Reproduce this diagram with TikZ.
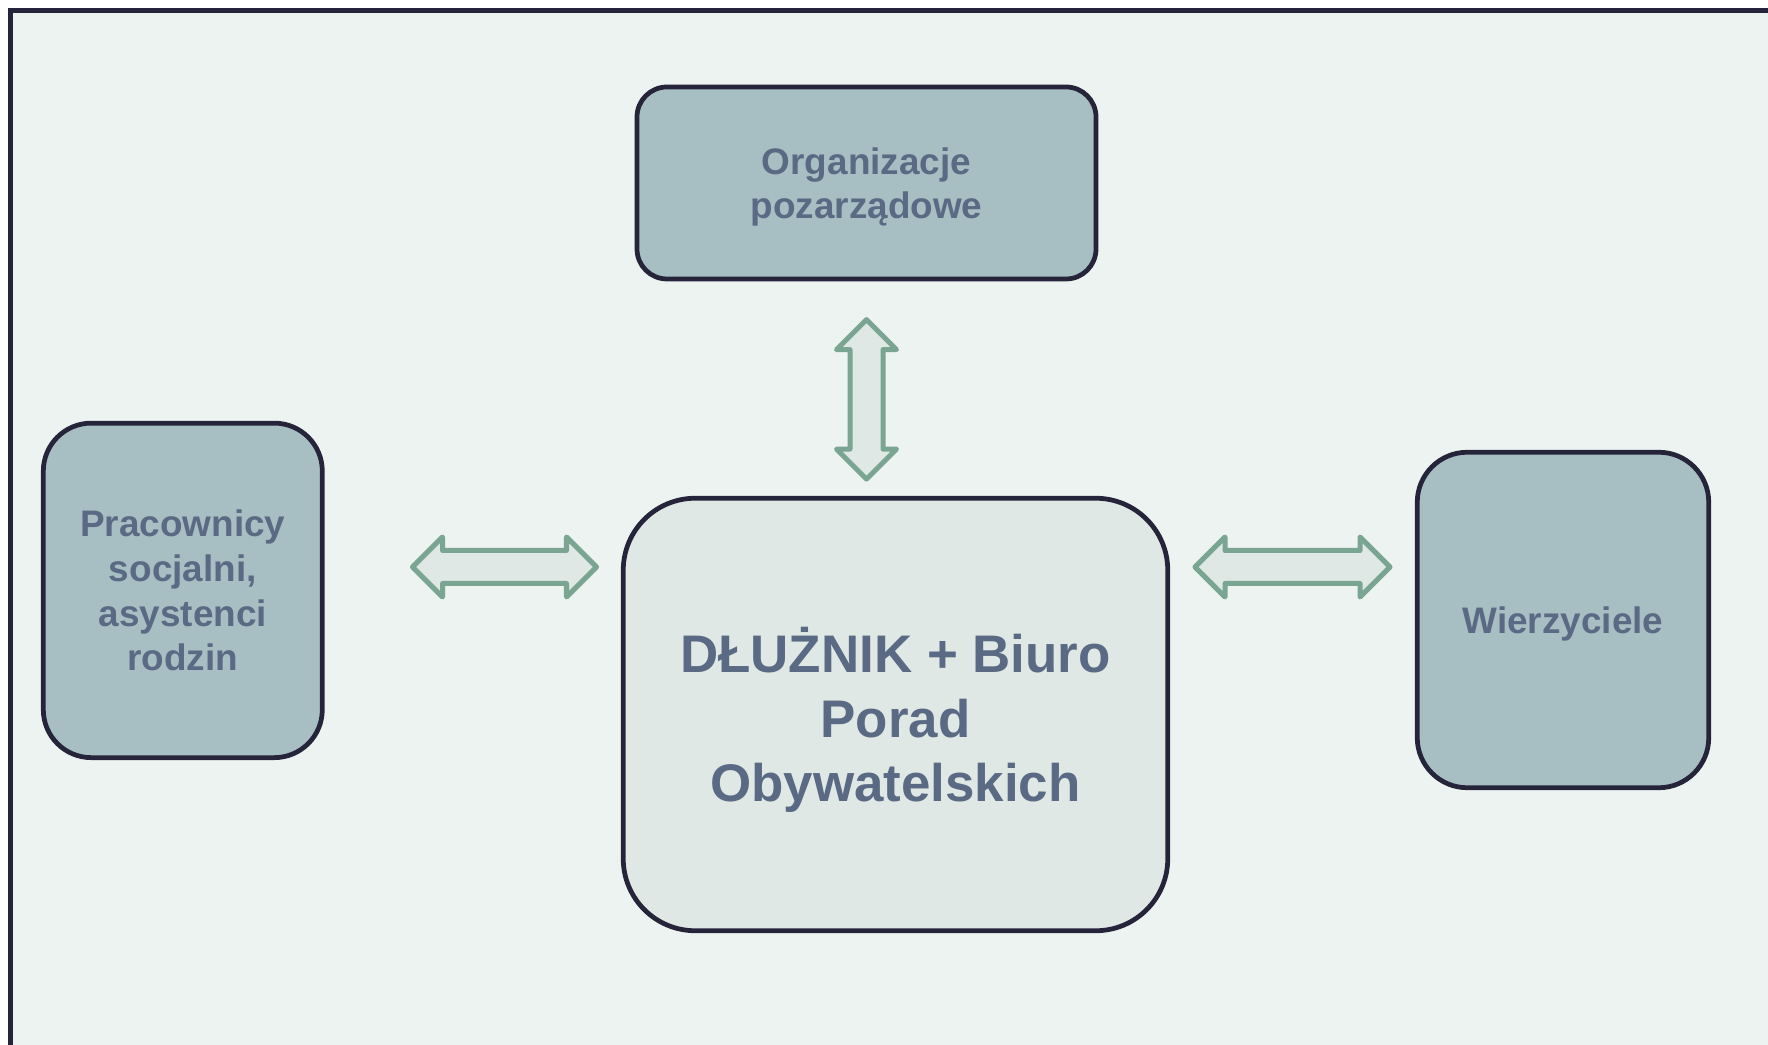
\documentclass[tikz,border=0pt]{standalone}
\usepackage{fontspec}
\setmainfont{Liberation Sans}
\usetikzlibrary{shapes.arrows}

\definecolor{tlo}{HTML}{EDF3F0}
\definecolor{ramka}{HTML}{26243A}
\definecolor{szary}{HTML}{A7BEC2}
\definecolor{jasny}{HTML}{DFE8E4}
\definecolor{napis}{HTML}{5A6A84}
\definecolor{zielony}{HTML}{7BA593}

\begin{document}
\begin{tikzpicture}[
  blok/.style={draw=ramka, line width=2.7pt, align=center, text=napis,
    font=\fontsize{21}{25.4}\selectfont\bfseries, inner sep=0pt, text depth=0pt},
  strzalka/.style={double arrow, draw=zielony, fill=jasny, line width=2.85pt,
    line join=round, inner sep=0.28cm, minimum width=0pt,
    double arrow head extend=0.27cm}
]
  \useasboundingbox (0,0) rectangle (35.36,20.9);
  \clip (0,0) rectangle (35.36,20.9);

  % Tlo z ramka
  \draw[ramka, fill=tlo, line width=2.9pt] (0.214,-1) rectangle (36,20.684);

  % Bloki
  \node[blok, fill=szary, minimum width=9.18cm, minimum height=3.84cm,
    rounded corners=0.6cm] (ngo) at (17.33,17.24) {Organizacje\\pozarządowe};
  \node[blok, fill=szary, minimum width=5.58cm, minimum height=6.69cm,
    rounded corners=0.96cm] (pracownicy) at (3.656,9.092)
    {Pracownicy\\socjalni,\\asystenci\\rodzin};
  \node[blok, fill=jasny, minimum width=10.89cm, minimum height=8.65cm,
    rounded corners=1.44cm, font=\fontsize{30.1}{36.7}\selectfont\bfseries]
    (dluznik) at (17.91,6.61) {DŁUŻNIK + Biuro\\Porad\\Obywatelskich};
  \node[blok, fill=szary, minimum width=5.83cm, minimum height=6.71cm,
    rounded corners=1.0cm] (wierzyciele) at (31.26,8.5) {Wierzyciele};

  % Strzalki
  \node[strzalka, minimum height=3.68cm] (sLewa) at (10.09,9.56) {};
  \node[strzalka, minimum height=3.9cm] (sPrawa) at (25.85,9.56) {};
  \node[strzalka, minimum height=3.19cm, rotate=90] (sGora) at (17.33,12.913) {};
\end{tikzpicture}
\end{document}
